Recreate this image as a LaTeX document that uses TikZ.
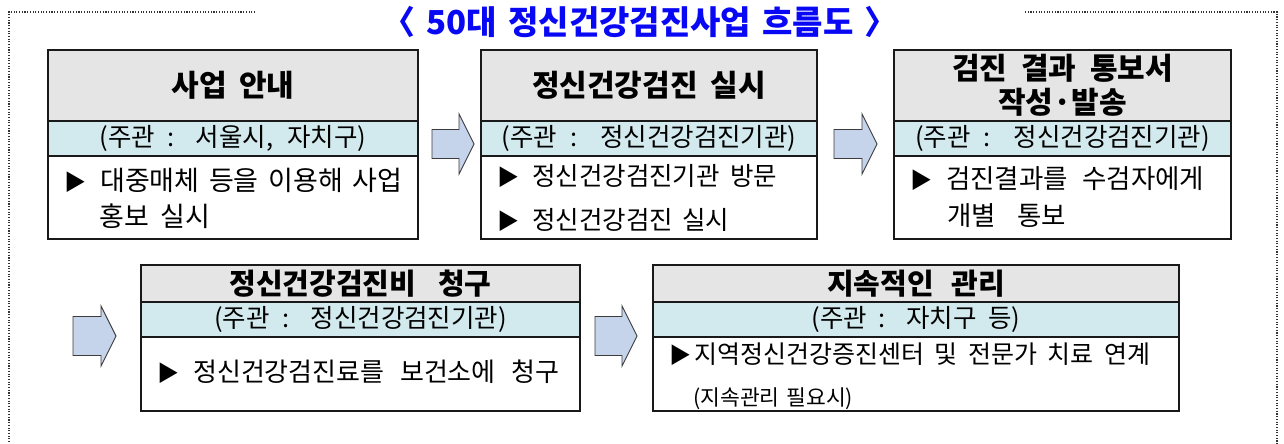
\documentclass[tikz,border=0pt]{standalone}
\usepackage{fontspec}
\setmainfont{Noto Sans CJK KR}
\definecolor{hdrgray}{RGB}{229,229,229}
\definecolor{bandcyan}{RGB}{210,233,237}
\definecolor{arrowfill}{RGB}{197,212,234}
\definecolor{arrowline}{RGB}{60,60,60}
\definecolor{titleblue}{RGB}{8,8,245}
\definecolor{boxline}{RGB}{25,25,25}
\newcommand\jline[2]{\makebox[#1pt][s]{#2}}
\newcommand\blockarrow[6]{%
  \draw[blockarr] (#1,#4-#5) -- (#2,#4-#5) -- (#2,#4-#6) -- (#3,#4)
    -- (#2,#4+#6) -- (#2,#4+#5) -- (#1,#4+#5) -- cycle;}
\tikzset{
  part/.style={draw=boxline, line width=1.3pt, anchor=north west, inner sep=0pt, outer sep=0pt},
  hdrbox/.style={part, fill=hdrgray},
  bandbox/.style={part, fill=bandcyan},
  bodybox/.style={part, fill=white},
  hdrtxt/.style={inner sep=0pt, font=\bfseries\fontsize{30}{34}\selectfont, align=center},
  hdrtxtb/.style={inner sep=0pt, font=\bfseries\fontsize{29}{32}\selectfont},
  bandtxt/.style={inner sep=0pt, font=\fontsize{25.5}{28}\selectfont},
  bodytxt/.style={inner sep=0pt, anchor=base west, font=\fontsize{25.5}{30}\selectfont},
  bodytxtl/.style={inner sep=0pt, anchor=base west, font=\fontsize{27}{30}\selectfont},
  bodytxtm/.style={inner sep=0pt, anchor=base west, font=\fontsize{26.5}{30}\selectfont},
  bodytxtc/.style={inner sep=0pt, anchor=base west, font=\fontsize{26}{30}\selectfont},
  bodytxts/.style={inner sep=0pt, anchor=base west, font=\fontsize{25}{30}\selectfont},
  tri/.style={inner sep=0pt, anchor=base west, font=\fontsize{22}{26}\selectfont},
  notetxt/.style={inner sep=0pt, anchor=base west, font=\fontsize{21.5}{24}\selectfont},
  blockarr/.style={draw=arrowline, line width=0.9pt, fill=arrowfill, line join=miter},
  frame/.style={line width=1.1pt, dash pattern=on 1.1pt off 1.6pt, draw=black!80}
}
\begin{document}
\begin{tikzpicture}[x=1pt,y=-1pt]
\useasboundingbox (0,0) rectangle (1284,444);
% dotted frame
\draw[frame] (255,12) -- (9,12) -- (9,446);
\draw[frame] (1025,12) -- (1277,12) -- (1277,446);
% title
\node[inner sep=0pt, text=titleblue, font=\bfseries\fontsize{33}{36}\selectfont] (title) at (640,22)
  {\jline{516}{〈 50대 정신건강검진사업 흐름도 〉}};
% ---- row 1 ----
% box 1
\node[hdrbox, minimum width=370pt, minimum height=71pt] (b1h) at (48,50) {};
\node[bandbox, minimum width=370pt, minimum height=35pt] (b1s) at (b1h.south west) {};
\node[bodybox, minimum width=370pt, minimum height=83pt] (b1b) at (b1s.south west) {};
\node[hdrtxt] (b1ht) at (b1h.center) {\jline{123}{사업 안내}};
\node[bandtxt] (b1st) at (b1s.center) {\jline{267}{(주관 : 서울시, 자치구)}};
\node[tri] (b1m1) at (64,190) {▶};
\node[bodytxtl] (b1l1) at (100,190) {\jline{302}{대중매체 등을 이용해 사업}};
\node[bodytxtl] (b1l2) at (99,226) {\jline{111}{홍보 실시}};
% box 2
\node[hdrbox, minimum width=336pt, minimum height=71pt] (b2h) at (481,50) {};
\node[bandbox, minimum width=336pt, minimum height=35pt] (b2s) at (b2h.south west) {};
\node[bodybox, minimum width=336pt, minimum height=83pt] (b2b) at (b2s.south west) {};
\node[hdrtxt] (b2ht) at (b2h.center) {\jline{234}{정신건강검진 실시}};
\node[bandtxt] (b2st) at (b2s.center) {\jline{295}{(주관 : 정신건강검진기관)}};
\node[tri] (b2m1) at (497,185) {▶};
\node[bodytxt] (b2l1) at (532,185) {\jline{245}{정신건강검진기관 방문}};
\node[tri] (b2m2) at (497,229) {▶};
\node[bodytxt] (b2l2) at (532,229) {\jline{197}{정신건강검진 실시}};
% box 3
\node[hdrbox, minimum width=337pt, minimum height=71pt] (b3h) at (894,50) {};
\node[bandbox, minimum width=337pt, minimum height=35pt] (b3s) at (b3h.south west) {};
\node[bodybox, minimum width=337pt, minimum height=83pt] (b3b) at (b3s.south west) {};
\node[hdrtxt] (b3ht) at (b3h.center) {\jline{221}{검진 결과 통보서}\\작성·발송};
\node[bandtxt] (b3st) at (b3s.center) {\jline{295}{(주관 : 정신건강검진기관)}};
\node[tri] (b3m1) at (910,188) {▶};
\node[bodytxtm] (b3l1) at (946,188) {\jline{258}{검진결과를 수검자에게}};
\node[bodytxtm] (b3l2) at (947,225) {\jline{119}{개별 통보}};
% arrows row 1
\blockarrow{432}{459}{474}{144}{14.5}{30}
\blockarrow{834}{862}{877}{144}{14.5}{30}
% ---- row 2 ----
% box 4
\node[hdrbox, minimum width=439pt, minimum height=37pt] (b4h) at (141,265) {};
\node[bandbox, minimum width=439pt, minimum height=35pt] (b4s) at (b4h.south west) {};
\node[bodybox, minimum width=439pt, minimum height=74pt] (b4b) at (b4s.south west) {};
\node[hdrtxtb] (b4ht) at (b4h.center) {\jline{262}{정신건강검진비 청구}};
\node[bandtxt] (b4st) at (b4s.center) {\jline{293}{(주관 : 정신건강검진기관)}};
\node[tri] (b4m1) at (157,381) {▶};
\node[bodytxtc] (b4l1) at (193,381) {\jline{366}{정신건강검진료를 보건소에 청구}};
% box 5
\node[hdrbox, minimum width=526pt, minimum height=37pt] (b5h) at (653,265) {};
\node[bandbox, minimum width=526pt, minimum height=35pt] (b5s) at (b5h.south west) {};
\node[bodybox, minimum width=526pt, minimum height=74pt] (b5b) at (b5s.south west) {};
\node[hdrtxtb] (b5ht) at (b5h.center) {\jline{178}{지속적인 관리}};
\node[bandtxt] (b5st) at (b5s.center) {\jline{209}{(주관 : 자치구 등)}};
\node[tri] (b5m1) at (669,363) {▶};
\node[bodytxts] (b5l1) at (694,363) {\jline{456}{지역정신건강증진센터 및 전문가 치료 연계}};
\node[notetxt] (b5l2) at (693,405) {\jline{160}{(지속관리 필요시)}};
% arrows row 2
\blockarrow{73}{101}{116}{336}{19.5}{30}
\blockarrow{595}{622}{637}{336}{19.5}{30}
\end{tikzpicture}
\end{document}
